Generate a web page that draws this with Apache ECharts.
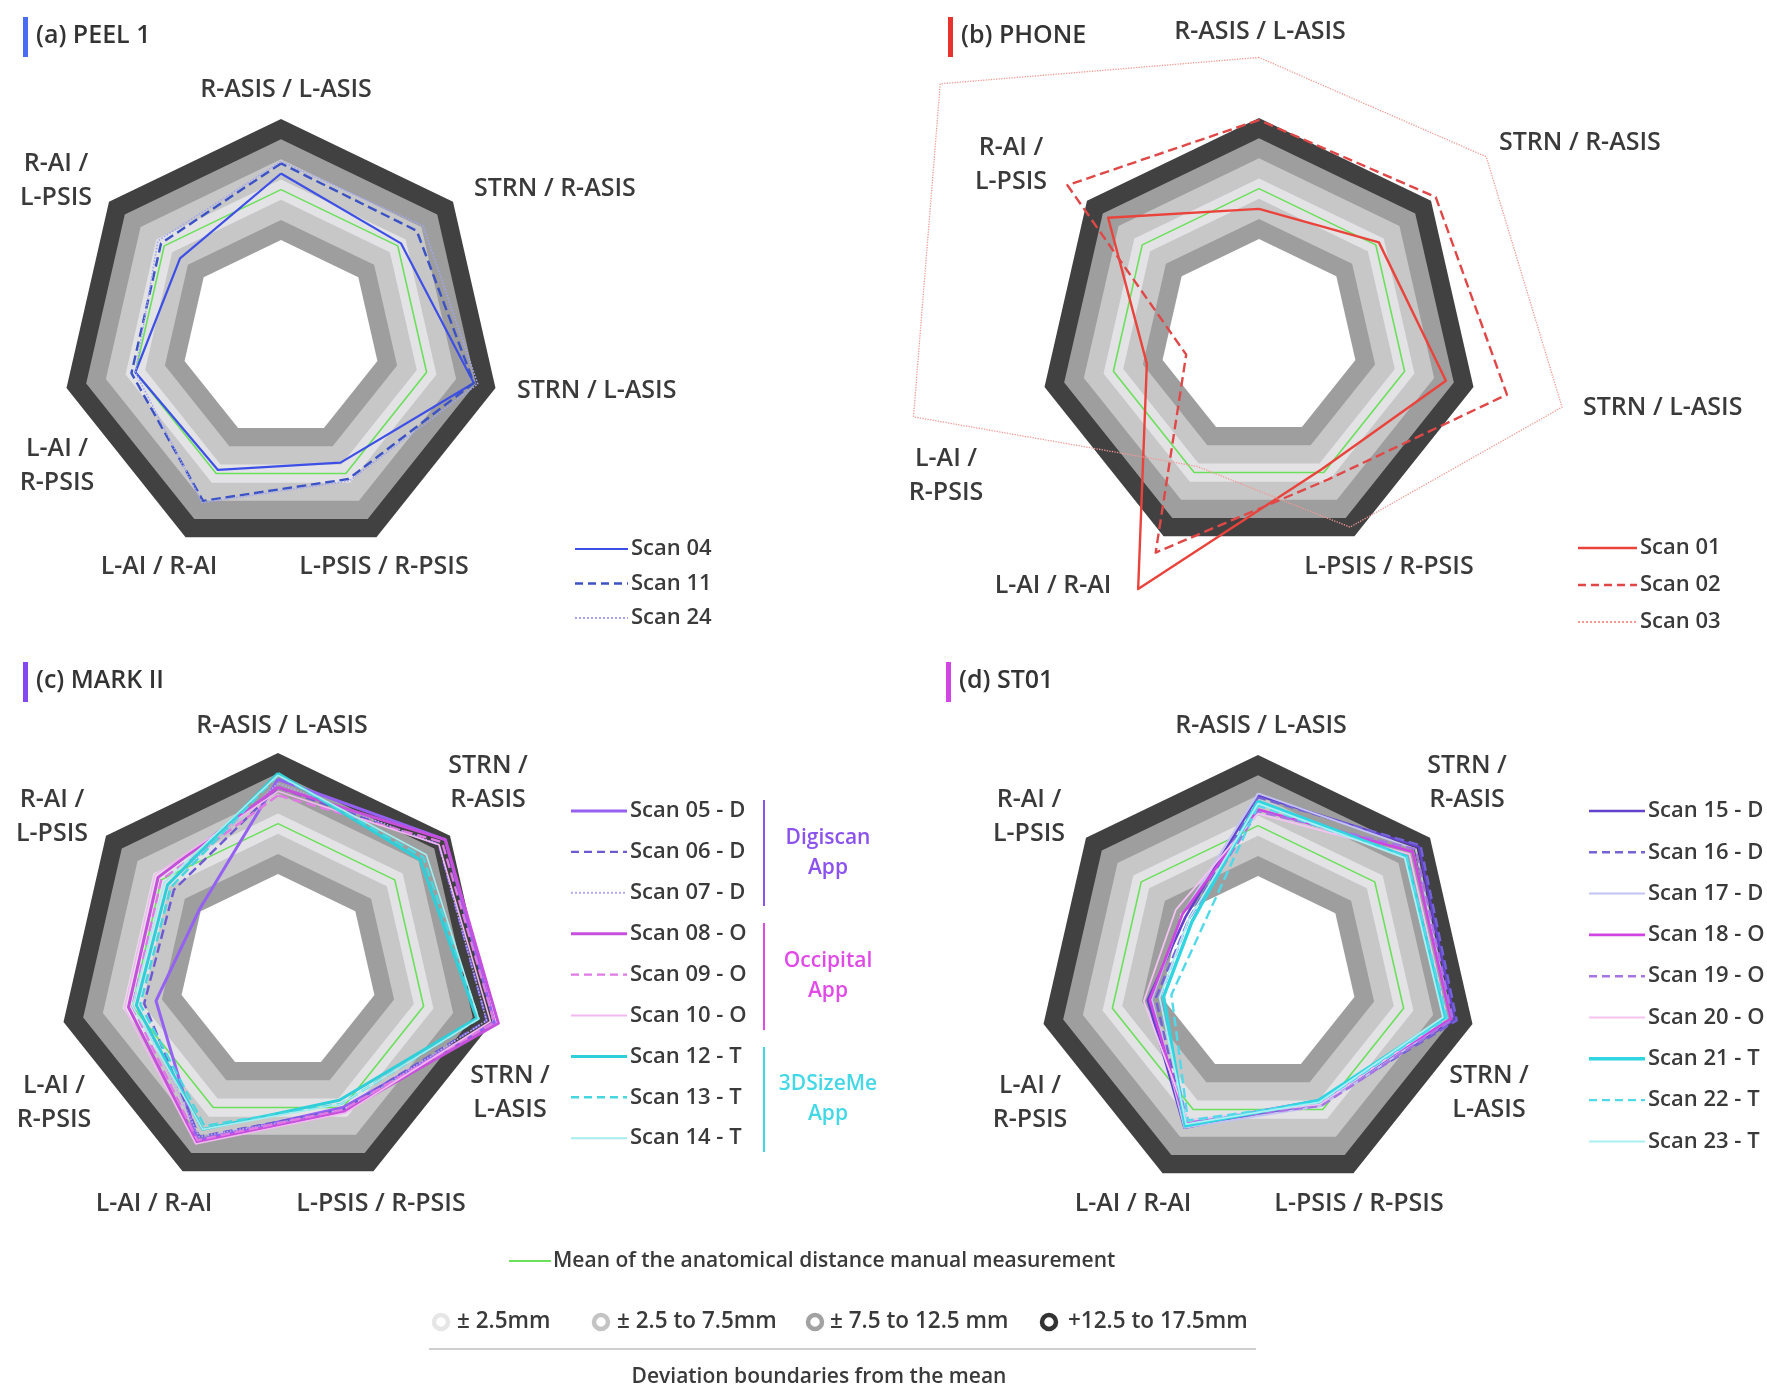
<!DOCTYPE html>
<html>
<head>
<meta charset="utf-8">
<title>Anatomical distance deviations by scanner</title>
<script src="https://cdn.jsdelivr.net/npm/echarts@6/dist/echarts.min.js"></script>
<style>
  html, body { margin: 0; padding: 0; background: #ffffff; }
  #chart { width: 1767px; height: 1389px; }
</style>
</head>
<body>
<div id="chart"></div>
<script>
// ---- Data -------------------------------------------------------------
// Landmark pairs, listed clockwise starting from the top of each heptagon
const axisNames = ['R-ASIS / L-ASIS', 'STRN / R-ASIS', 'STRN / L-ASIS', 'L-PSIS / R-PSIS',
                   'L-AI / R-AI', 'L-AI / R-PSIS', 'R-AI / L-PSIS'];

// Deviation band limits in mm from the manual-measurement mean (outermost first)
const bandLimits = [17.5, 12.5, 7.5, 2.5, -2.5, -7.5, -12.5];
const meanValues = [0, 0, 0, 0, 0, 0, 0];

// Legend captions for the deviation bands
const bandLegend = ['\u00B1 2.5mm', '\u00B1 2.5 to 7.5mm', '\u00B1 7.5 to 12.5 mm', '+12.5 to 17.5mm'];

// (a) PEEL 1 — deviation from the mean (mm), axisNames order
const peelNames = ['Scan 04', 'Scan 11', 'Scan 24'];
const scan04 = [4, 1, 12, -3, -1, 0, -5];
const scan11 = [6.5, 6, 12, 1.5, 7.5, 1, 1];
const scan24 = [7, 8, 13, 2, 8, 0, 2];

// (b) PHONE
const phoneNames = ['Scan 01', 'Scan 02', 'Scan 03'];
const scan01 = [-5, 1, 10.5, -1, 32, -8.5, 10.8];
const scan02 = [17, 19, 26, 2, 22, -18.5, 23.7];
const scan03 = [32.5, 35, 40, 15, -1.7, 50.8, 64];

// (c) MARK II
const markNames = ['Scan 05 - D', 'Scan 06 - D', 'Scan 07 - D', 'Scan 08 - O', 'Scan 09 - O',
                   'Scan 10 - O', 'Scan 12 - T', 'Scan 13 - T', 'Scan 14 - T'];
const scan05 = [11, 16, 18, 0, 9, -6, -12];
const scan06 = [9, 14, 16, 0.5, 8, -3, -4];
const scan07 = [10, 14, 16, 1, 8, -1, -2];
const scan08 = [9, 16, 19, 1, 9.5, 1, 1];
const scan09 = [7, 15, 18, 0.5, 9, 0, 0];
const scan10 = [8, 14, 17, 1.5, 10, 2, 2];
const scan12 = [12.5, 8, 13.5, -2, 6, -1, -2];
const scan13 = [12, 9, 14, -1, 5, -2, -3];
const scan14 = [12, 10, 14, -1, 6, 0, -1];

// (d) ST01
const stNames = ['Scan 15 - D', 'Scan 16 - D', 'Scan 17 - D', 'Scan 18 - O', 'Scan 19 - O',
                 'Scan 20 - O', 'Scan 21 - T', 'Scan 22 - T', 'Scan 23 - T'];
const scan15 = [7.5, 14, 13, -2, 5, -9, -14];
const scan16 = [7, 14.5, 13.5, -1.5, 4.5, -11, -15];
const scan17 = [8, 13, 12, -1, 5, -10, -13];
const scan18 = [4, 12, 12, -2.5, 4, -9.5, -13];
const scan19 = [3.5, 13, 12.5, -1, 3.5, -12, -15];
const scan20 = [3, 11, 11, -1.5, 3, -8, -11];
const scan21 = [6, 10, 10.5, -2.5, 4.5, -13, -16];
const scan22 = [5, 10, 11, -2, 3, -15, -19];
const scan23 = [5.5, 9.5, 10, -2, 4, -12, -15];

// App groups in the MARK II legend
const appGroups = [['Digiscan', 'App'], ['Occipital', 'App'], ['3DSizeMe', 'App']];

// ---- Styles & layout ----------------------------------------------------
const FONT = '"Open Sans", Lato, sans-serif';
const TEXT = '#3a3a3a';
const RADIUS = 220;
const AX_MIN = -37, AX_MAX = 17.5;
const bandColors = ['#414141', '#9e9e9e', '#c7c7c7', '#e3e3e6', '#c7c7c7', '#9e9e9e', '#ffffff'];
const bandIcon = ['#e6e6e6', '#c4c4c4', '#a2a2a2', '#333333'];
const MEAN_COLOR = '#6be05a';

// radar indicators run counter-clockwise; reorder the clockwise lists
const CW_TO_RADAR = [0, 6, 5, 4, 3, 2, 1];
const toRadar = arr => CW_TO_RADAR.map(i => arr[i]);

const L = (color, width, type) => ({ color, width, type: type || 'solid' });

const panels = [
  {
    title: '(a) PEEL 1', barColor: '#4a6cf2', titleX: 23, titleY: 36,
    center: [281, 339],
    scans: [
      { name: peelNames[0], values: scan04, line: L('#3d4fe6', 2.2) },
      { name: peelNames[1], values: scan11, line: L('#3b52c4', 2.4, 'dashed') },
      { name: peelNames[2], values: scan24, line: L('#a3a6ef', 1.6, 'dotted') }
    ],
    labels: [
      ['R-ASIS / L-ASIS', 286, 90, 'center'], ['STRN / R-ASIS', 474, 189, 'left'],
      ['STRN / L-ASIS', 517, 391, 'left'], ['L-PSIS / R-PSIS', 384, 567, 'center'],
      ['L-AI / R-AI', 159, 567, 'center'], ['L-AI /\nR-PSIS', 57, 466, 'center'],
      ['R-AI /\nL-PSIS', 56, 181, 'center']
    ],
    legend: { lineX: 575, textX: 631, y0: 549, dy: 34.5 }
  },
  {
    title: '(b) PHONE', barColor: '#e8322e', titleX: 948, titleY: 36,
    center: [1259, 338],
    scans: [
      { name: phoneNames[0], values: scan01, line: L('#e9433c', 2.4) },
      { name: phoneNames[1], values: scan02, line: L('#e04848', 2.4, 'dashed') },
      { name: phoneNames[2], values: scan03, line: L('#f19a94', 1.3, 'dotted') }
    ],
    labels: [
      ['R-ASIS / L-ASIS', 1260, 32, 'center'], ['STRN / R-ASIS', 1499, 143, 'left'],
      ['STRN / L-ASIS', 1583, 408, 'left'], ['L-PSIS / R-PSIS', 1389, 567, 'center'],
      ['L-AI / R-AI', 1053, 586, 'center'], ['L-AI /\nR-PSIS', 946, 476, 'center'],
      ['R-AI /\nL-PSIS', 1011, 165, 'center']
    ],
    legend: { lineX: 1578, textX: 1640, y0: 548, dy: 37 }
  },
  {
    title: '(c) MARK II', barColor: '#8447f0', titleX: 23, titleY: 681,
    center: [278, 973],
    scans: [
      { name: markNames[0], values: scan05, line: L('#9561f2', 3) },
      { name: markNames[1], values: scan06, line: L('#6d5ad2', 2.4, 'dashed') },
      { name: markNames[2], values: scan07, line: L('#b7a8f2', 1.6, 'dotted') },
      { name: markNames[3], values: scan08, line: L('#c64fdc', 3) },
      { name: markNames[4], values: scan09, line: L('#e07ae4', 2.4, 'dashed') },
      { name: markNames[5], values: scan10, line: L('#f2b8f0', 1.6) },
      { name: markNames[6], values: scan12, line: L('#2ecfd9', 3) },
      { name: markNames[7], values: scan13, line: L('#45d6e0', 2.4, 'dashed') },
      { name: markNames[8], values: scan14, line: L('#a6ecee', 1.6) }
    ],
    labels: [
      ['R-ASIS / L-ASIS', 282, 726, 'center'], ['STRN /\nR-ASIS', 488, 783, 'center'],
      ['STRN /\nL-ASIS', 510, 1093, 'center'], ['L-PSIS / R-PSIS', 381, 1204, 'center'],
      ['L-AI / R-AI', 154, 1204, 'center'], ['L-AI /\nR-PSIS', 54, 1103, 'center'],
      ['R-AI /\nL-PSIS', 52, 817, 'center']
    ],
    legend: { lineX: 571, textX: 630, y0: 811, dy: 40.9 }
  },
  {
    title: '(d) ST01', barColor: '#d244e6', titleX: 946, titleY: 681,
    center: [1258, 975],
    scans: [
      { name: stNames[0], values: scan15, line: L('#6241cc', 2.6) },
      { name: stNames[1], values: scan16, line: L('#7463d6', 2.4, 'dashed') },
      { name: stNames[2], values: scan17, line: L('#c3c3f2', 2) },
      { name: stNames[3], values: scan18, line: L('#d044e2', 2.6) },
      { name: stNames[4], values: scan19, line: L('#a774e4', 2.4, 'dashed') },
      { name: stNames[5], values: scan20, line: L('#f3c4f2', 1.8) },
      { name: stNames[6], values: scan21, line: L('#2fd5e0', 3.4) },
      { name: stNames[7], values: scan22, line: L('#52d9e9', 2.4, 'dashed') },
      { name: stNames[8], values: scan23, line: L('#aaf0f2', 1.8) }
    ],
    labels: [
      ['R-ASIS / L-ASIS', 1261, 726, 'center'], ['STRN /\nR-ASIS', 1467, 783, 'center'],
      ['STRN /\nL-ASIS', 1489, 1093, 'center'], ['L-PSIS / R-PSIS', 1359, 1204, 'center'],
      ['L-AI / R-AI', 1133, 1204, 'center'], ['L-AI /\nR-PSIS', 1030, 1103, 'center'],
      ['R-AI /\nL-PSIS', 1029, 817, 'center']
    ],
    legend: { lineX: 1589, textX: 1648, y0: 811, dy: 41.3 }
  }
];

// ---- Option -------------------------------------------------------------
const radars = [];
const series = [];
const graphics = [];

const text = (t, x, y, opts) => Object.assign({
  type: 'text', silent: true,
  style: Object.assign({
    text: t, x, y, fill: TEXT, font: '600 25px ' + FONT,
    textAlign: 'left', textVerticalAlign: 'middle', lineHeight: 34
  }, opts || {})
});

panels.forEach((p, k) => {
  radars.push({
    center: p.center, radius: RADIUS, startAngle: 90, shape: 'polygon', splitNumber: 1,
    indicator: toRadar(axisNames).map(n => ({ name: n, min: AX_MIN, max: AX_MAX })),
    axisName: { show: false },
    axisLine: { show: false }, axisTick: { show: false }, axisLabel: { show: false },
    splitLine: { show: false }, splitArea: { show: false }, silent: true
  });

  // filled deviation bands, painted from the outside in
  series.push({
    type: 'radar', radarIndex: k, z: 1, silent: true, symbol: 'none',
    emphasis: { disabled: true },
    data: bandLimits.map((lim, j) => ({
      value: axisNames.map(() => lim),
      lineStyle: { width: 0, opacity: 0 },
      areaStyle: { color: bandColors[j], opacity: 1 }
    }))
  });

  // manual-measurement mean
  series.push({
    type: 'radar', radarIndex: k, z: 2, silent: true, symbol: 'none',
    emphasis: { disabled: true },
    data: [{ name: 'Mean', value: toRadar(meanValues), lineStyle: { color: MEAN_COLOR, width: 1.6 } }]
  });

  // individual scans
  series.push({
    type: 'radar', radarIndex: k, z: 3, silent: true, symbol: 'none',
    emphasis: { disabled: true },
    data: p.scans.map(s => ({ name: s.name, value: toRadar(s.values), lineStyle: s.line }))
  });

  // panel heading with coloured marker
  graphics.push({ type: 'rect', silent: true,
    shape: { x: p.titleX, y: p.titleY - 19, width: 5, height: 40 }, style: { fill: p.barColor } });
  graphics.push(text(p.title, p.titleX + 13, p.titleY, { font: '600 25px ' + FONT, fill: '#333333' }));

  // axis names
  p.labels.forEach(([t, x, y, align]) => graphics.push(text(t, x, y, { textAlign: align })));

  // legend rows
  const lg = p.legend;
  p.scans.forEach((s, i) => {
    const y = lg.y0 + i * lg.dy;
    const dash = s.line.type === 'dashed' ? [8, 5] : (s.line.type === 'dotted' ? [2, 2] : null);
    graphics.push({ type: 'line', silent: true,
      shape: { x1: lg.lineX, y1: y, x2: lg.textX - 3, y2: y },
      style: { stroke: s.line.color, lineWidth: Math.max(2, s.line.width), lineDash: dash } });
    graphics.push(text(s.name, lg.textX, y, { font: '600 22px ' + FONT }));
  });
});

// app brackets for MARK II
const groupColors = ['#8b52ee', '#e04ae6', '#44d8e6'];
const groupSpans = [[800, 906], [923, 1030], [1047, 1152]];
appGroups.forEach((g, i) => {
  graphics.push({ type: 'line', silent: true,
    shape: { x1: 764, y1: groupSpans[i][0], x2: 764, y2: groupSpans[i][1] },
    style: { stroke: groupColors[i], lineWidth: 2 } });
  const mid = (groupSpans[i][0] + groupSpans[i][1]) / 2;
  graphics.push(text(g.join('\n'), 828, mid, { textAlign: 'center', fill: groupColors[i], font: '600 21px ' + FONT, lineHeight: 30 }));
});

// overall legend: mean line and band rings
graphics.push({ type: 'line', silent: true, shape: { x1: 509, y1: 1261, x2: 551, y2: 1261 },
  style: { stroke: MEAN_COLOR, lineWidth: 2 } });
graphics.push(text('Mean of the anatomical distance manual measurement', 553, 1261, { font: '600 21px ' + FONT }));

const ringX = [441, 601, 815, 1049];
const ringTextX = [457, 617, 830, 1068];
bandLegend.forEach((t, i) => {
  graphics.push({ type: 'circle', silent: true, shape: { cx: ringX[i], cy: 1322, r: 7 },
    style: { fill: 'none', stroke: bandIcon[i], lineWidth: 4.5 } });
  graphics.push(text(t, ringTextX[i], 1322, { font: '600 22.5px ' + FONT }));
});
graphics.push({ type: 'line', silent: true, shape: { x1: 429, y1: 1349, x2: 1256, y2: 1349 },
  style: { stroke: '#cfcfcf', lineWidth: 2 } });
graphics.push(text('Deviation boundaries from the mean', 819, 1377, { textAlign: 'center', font: '600 21px ' + FONT }));

const chart = echarts.init(document.getElementById('chart'), null, { renderer: 'canvas' });
chart.setOption({
  animation: false,
  backgroundColor: '#ffffff',
  radar: radars,
  series: series,
  graphic: graphics
});
</script>
</body>
</html>
